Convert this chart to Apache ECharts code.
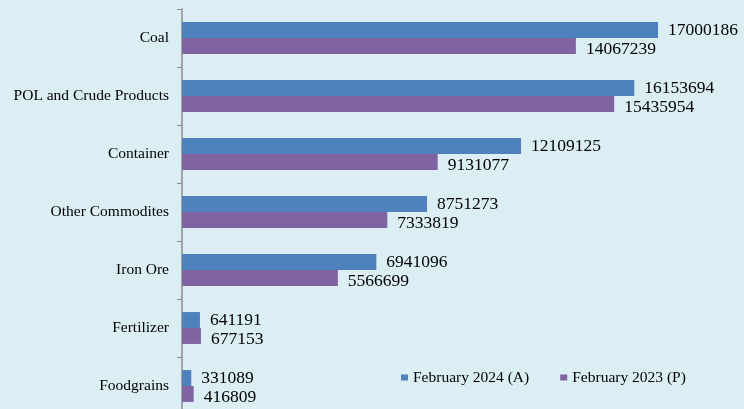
<!DOCTYPE html>
<html><head><meta charset="utf-8">
<script src="https://cdn.jsdelivr.net/npm/echarts@6/dist/echarts.min.js"></script>
<style>html,body{margin:0;padding:0;background:#dbeef4;}#c{width:744px;height:409px;}</style>
</head><body><div id="c"></div>
<script>
const categories = ["Coal","POL and Crude Products","Container","Other Commodites","Iron Ore","Fertilizer","Foodgrains"];
const feb2024 = [17000186,16153694,12109125,8751273,6941096,641191,331089];
const feb2023 = [14067239,15435954,9131077,7333819,5566699,677153,416809];
const seriesNames = ["February 2024 (A)","February 2023 (P)"];

const chart = echarts.init(document.getElementById('c'));
const font = "Liberation Serif";
chart.setOption({
  backgroundColor: '#dbeef4',
  animation: false,
  textStyle: {fontFamily: font},
  grid: {left: 182, top: 9, width: 560, height: 406, containLabel: false, outerBoundsMode: 'none'},
  legend: {
    data: seriesNames, left: 401, top: 369.5, padding: 0, icon: 'rect', itemWidth: 7, itemHeight: 6, itemGap: 31,
    textStyle: {fontFamily: font, fontSize: 15.5, color: '#000'}
  },
  xAxis: {type: 'value', min: 0, max: 20000000, show: false, splitLine: {show: false}},
  yAxis: {
    type: 'category', data: categories, inverse: true,
    axisLine: {lineStyle: {color: '#8c8c8c', width: 1.5}},
    axisTick: {show: true, length: 5, lineStyle: {color: '#8c8c8c'}},
    axisLabel: {fontFamily: font, fontSize: 15.5, color: '#000', margin: 13}
  },
  series: [
    {name: seriesNames[0], type: 'bar', data: feb2024, barGap: '0%', barCategoryGap: '45%',
     itemStyle: {color: '#4f81bd'},
     label: {show: true, position: 'right', distance: 10, color: '#000', fontFamily: font, fontSize: 17.5}},
    {name: seriesNames[1], type: 'bar', data: feb2023,
     itemStyle: {color: '#8064a2'},
     label: {show: true, position: 'right', distance: 10, offset: [0, 3], color: '#000', fontFamily: font, fontSize: 17.5}}
  ]
});
</script></body></html>
